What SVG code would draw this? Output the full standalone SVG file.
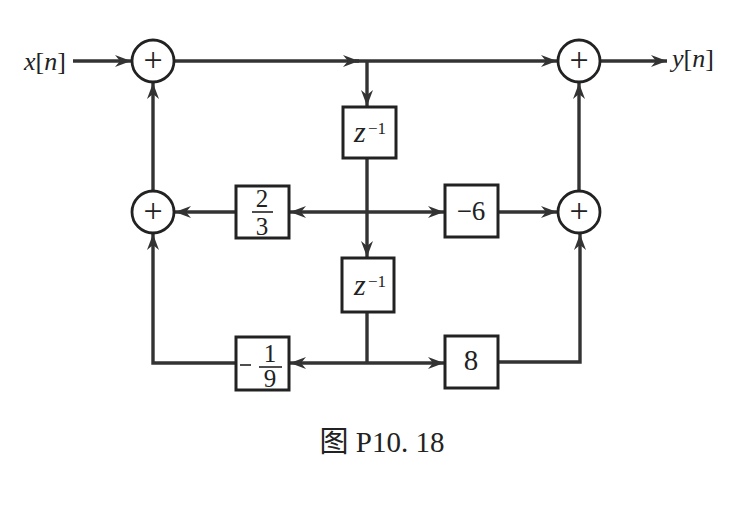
<svg xmlns="http://www.w3.org/2000/svg" width="736" height="518" viewBox="0 0 736 518">
<style>
.sum{fill:#fff;stroke:#222;stroke-width:2.8}
.box{fill:#fff;stroke:#222;stroke-width:3}
.ln{fill:none;stroke:#333;stroke-width:3.4}
.bar{stroke:#222;stroke-width:1.6}
.t{font-family:"Liberation Serif",serif;fill:#222}
.pl{font-family:"Liberation Serif",serif;fill:#222;font-size:34px;text-anchor:middle}
.cap{font-family:"Liberation Serif","Noto Sans CJK SC",serif;fill:#222}
.it{font-style:italic}
</style>
<defs>
<marker id="ah" markerUnits="userSpaceOnUse" markerWidth="18" markerHeight="12" refX="16" refY="6" orient="auto" overflow="visible">
<path d="M0,0 L16,6 L0,12 L5,6 z" fill="#333"/>
</marker>
</defs>
<rect width="736" height="518" fill="#fff"/>
<g id="connectors">
<line class="ln" x1="73" y1="61" x2="131" y2="61" marker-end="url(#ah)"/>
<line class="ln" x1="175" y1="61" x2="359" y2="61" marker-end="url(#ah)"/>
<line class="ln" x1="355" y1="61" x2="557" y2="61" marker-end="url(#ah)"/>
<line class="ln" x1="367" y1="61" x2="367" y2="106" marker-end="url(#ah)"/>
<line class="ln" x1="367" y1="158" x2="367" y2="257" marker-end="url(#ah)"/>
<line class="ln" x1="367" y1="212" x2="290" y2="212" marker-end="url(#ah)"/>
<line class="ln" x1="367" y1="212" x2="444" y2="212" marker-end="url(#ah)"/>
<line class="ln" x1="236" y1="212" x2="175" y2="212" marker-end="url(#ah)"/>
<line class="ln" x1="498" y1="212" x2="557" y2="212" marker-end="url(#ah)"/>
<line class="ln" x1="153" y1="191" x2="153" y2="83" marker-end="url(#ah)"/>
<line class="ln" x1="579" y1="191" x2="579" y2="83" marker-end="url(#ah)"/>
<line class="ln" x1="367" y1="312" x2="367" y2="363"/>
<line class="ln" x1="367" y1="363" x2="290" y2="363" marker-end="url(#ah)"/>
<line class="ln" x1="367" y1="363" x2="444" y2="363" marker-end="url(#ah)"/>
<polyline class="ln" points="236,363 153,363 153,234" marker-end="url(#ah)"/>
<polyline class="ln" points="498,362 580,362 580,234" marker-end="url(#ah)"/>
<line class="ln" x1="601" y1="61" x2="667" y2="61" marker-end="url(#ah)"/>
</g>
<g id="input"><text class="t" x="24" y="70" font-size="26"><tspan class="it">x</tspan>[<tspan class="it">n</tspan>]</text></g>
<g id="output"><text class="t" x="672" y="67" font-size="26"><tspan class="it">y</tspan>[<tspan class="it">n</tspan>]</text></g>
<g id="sum1"><circle class="sum" cx="153" cy="61" r="21"/><text class="pl" x="153" y="71">+</text></g>
<g id="sum2"><circle class="sum" cx="579" cy="61" r="21"/><text class="pl" x="579" y="71">+</text></g>
<g id="sum3"><circle class="sum" cx="153" cy="212" r="21"/><text class="pl" x="153" y="222">+</text></g>
<g id="sum4"><circle class="sum" cx="579" cy="212" r="21"/><text class="pl" x="579" y="222">+</text></g>
<g id="delay1"><rect class="box" x="343" y="107" width="53" height="51"/><text class="t it" x="354" y="142" font-size="30">z</text><text class="t" x="368" y="134" font-size="17">−1</text></g>
<g id="delay2"><rect class="box" x="342" y="258" width="52" height="54"/><text class="t it" x="354" y="295" font-size="30">z</text><text class="t" x="368" y="287" font-size="17">−1</text></g>
<g id="gain23"><rect class="box" x="236" y="186" width="53" height="52"/><text class="t" x="262" y="207" font-size="25" text-anchor="middle">2</text><line class="bar" x1="252" y1="212" x2="273" y2="212"/><text class="t" x="262" y="235" font-size="25" text-anchor="middle">3</text></g>
<g id="gainm6"><rect class="box" x="445" y="185" width="53" height="52"/><text class="t" x="471" y="220" font-size="27" text-anchor="middle">−6</text></g>
<g id="gainm19"><rect class="box" x="236" y="337" width="53" height="53"/><line class="bar" x1="240" y1="365" x2="251" y2="365"/><text class="t" x="270" y="362" font-size="25" text-anchor="middle">1</text><line class="bar" x1="259" y1="367" x2="282" y2="367"/><text class="t" x="270" y="387" font-size="25" text-anchor="middle">9</text></g>
<g id="gain8"><rect class="box" x="445" y="336" width="53" height="52"/><text class="t" x="471" y="370" font-size="29" text-anchor="middle">8</text></g>
<g id="caption"><text class="cap" x="382" y="452" font-size="29" text-anchor="middle">图 P10. 18</text></g>
</svg>
